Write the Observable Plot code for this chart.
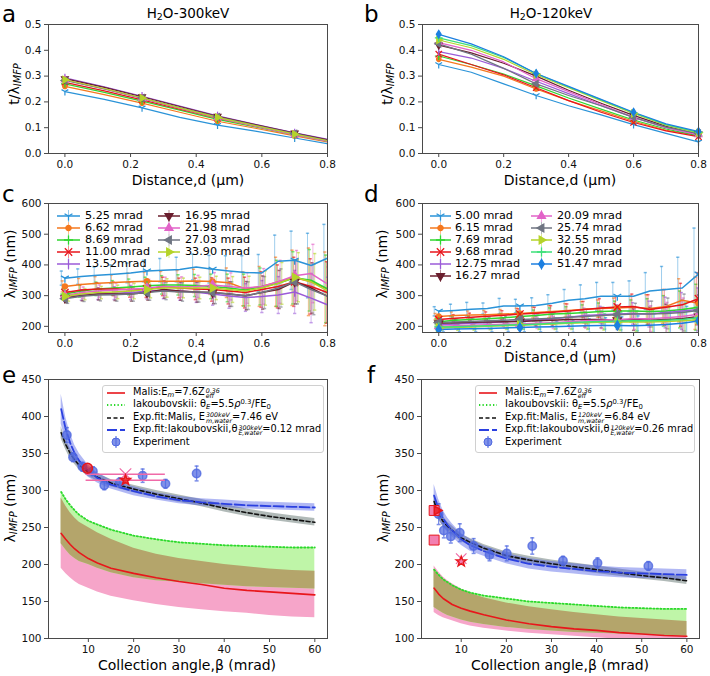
<!DOCTYPE html>
<html><head><meta charset="utf-8">
<script src="https://cdn.jsdelivr.net/npm/d3@7"></script>
<script src="https://cdn.jsdelivr.net/npm/@observablehq/plot@0.6"></script>
<style>
body{margin:0;background:#fff;font-family:"DejaVu Sans",sans-serif;}
#root{position:relative;width:710px;height:676px;overflow:hidden;background:#fff}
#root svg.layer{position:absolute;left:0;top:0}
.lbl{position:absolute;white-space:nowrap;color:#000;line-height:1;font-family:"DejaVu Sans",sans-serif}
.lbl sub{font-size:0.7em;vertical-align:-0.25em}
.lbl sup{font-size:0.7em;vertical-align:0.45em}
.ss{display:inline-flex;flex-direction:column;vertical-align:0.36em;font-size:0.64em;line-height:0.88;margin-left:1px;font-style:italic}
.ss span{display:block}
.legbox{position:absolute;background:rgba(255,255,255,0.85);border:1px solid #d0d0d0;border-radius:3px}
</style></head><body><div id="root"></div><script>
// ---------------- DATA ----------------
const series300 = ["5.25 mrad","6.62 mrad","8.69 mrad","11.00 mrad","13.52mrad","16.95 mrad","21.98 mrad","27.03 mrad","33.90 mrad"];
const series120 = ["5.00 mrad","6.15 mrad","7.69 mrad","9.68 mrad","12.75 mrad","16.27 mrad","20.09 mrad","25.74 mrad","32.55 mrad","40.20 mrad","51.47 mrad"];
const colors300 = ["#2a93d8","#f5781e","#2fd62f","#e8141b","#9b5bd8","#6b1f2e","#e263c8","#6f7582","#b5d32a"];
const colors120 = ["#2a93d8","#f5781e","#2fd62f","#e8141b","#9b5bd8","#6b1f2e","#e263c8","#6f7582","#b5d32a","#3de07a","#1c7fe0"];
const markers300 = ["tri","point","plus","x","vline","tdown","tup","tleft","tright"];
const markers120 = ["tri","point","plus","x","vline","tdown","tup","tleft","tright","plus","diamond"];

// panel a: t/lambda vs distance (300 keV)
const distA = [0, 0.12, 0.235, 0.35, 0.465, 0.58, 0.70, 0.80];
const markIdxA = [0, 2, 4, 6];
const tA = [
  [0.240,0.210,0.177,0.140,0.110,0.087,0.060,0.038],
  [0.260,0.228,0.195,0.160,0.125,0.098,0.068,0.045],
  [0.270,0.237,0.203,0.168,0.132,0.103,0.072,0.048],
  [0.276,0.243,0.208,0.172,0.137,0.106,0.075,0.050],
  [0.293,0.258,0.222,0.184,0.146,0.113,0.080,0.055],
  [0.290,0.256,0.220,0.182,0.144,0.112,0.079,0.053],
  [0.285,0.250,0.213,0.175,0.138,0.105,0.072,0.048],
  [0.283,0.250,0.215,0.178,0.142,0.109,0.077,0.051],
  [0.286,0.252,0.215,0.177,0.140,0.108,0.075,0.050]
];
// panel b: t/lambda vs distance (120 keV)
const distB = [0,0.1,0.2,0.3,0.4,0.5,0.6,0.7,0.8];
const markIdxB = [0, 3, 6, 8];
const tB = [
  [0.345,0.315,0.270,0.225,0.185,0.150,0.112,0.078,0.045],
  [0.365,0.335,0.300,0.250,0.205,0.165,0.125,0.090,0.070],
  [0.378,0.345,0.308,0.262,0.215,0.172,0.130,0.095,0.068],
  [0.385,0.345,0.305,0.255,0.205,0.160,0.120,0.088,0.065],
  [0.395,0.370,0.330,0.280,0.232,0.185,0.140,0.100,0.072],
  [0.420,0.390,0.350,0.300,0.245,0.195,0.148,0.105,0.075],
  [0.430,0.400,0.355,0.290,0.240,0.190,0.140,0.100,0.073],
  [0.425,0.385,0.330,0.270,0.225,0.185,0.140,0.102,0.078],
  [0.440,0.410,0.365,0.305,0.255,0.205,0.155,0.110,0.080],
  [0.448,0.418,0.372,0.310,0.258,0.208,0.158,0.112,0.082],
  [0.462,0.425,0.375,0.310,0.260,0.210,0.160,0.115,0.085]
];
// panels c,d: lambda vs distance
const distCD = [0,0.05,0.1,0.15,0.2,0.25,0.3,0.35,0.4,0.45,0.5,0.55,0.6,0.65,0.7,0.75,0.8];
const markIdxC = [0, 5, 9, 14];
const markIdxD = [0, 5, 11, 16];
const lam300 = [
  [357,362,366,370,374,380,383,385,393,386,380,375,374,412,415,398,422],
  [330,336,340,343,345,347,347,347,348,346,342,322,330,345,358,345,322],
  [305,315,322,325,328,332,335,335,333,330,325,318,330,340,358,350,322],
  [310,318,322,322,320,322,330,325,322,320,315,310,320,330,345,330,310],
  [298,302,306,308,310,314,318,315,311,305,299,294,297,302,312,292,270],
  [292,300,305,305,305,310,320,315,312,310,305,300,310,320,345,325,298],
  [300,310,315,318,320,325,330,328,330,335,330,325,330,345,365,372,338],
  [290,298,302,303,305,310,315,312,312,310,305,300,310,325,345,320,298],
  [298,305,310,312,315,320,325,325,325,325,320,315,325,340,360,345,315]
];
const err300 = [
  [23,25,27,30,32,35,38,40,42,45,50,55,60,85,95,105,110],
  [18,20,22,25,28,30,32,35,38,42,48,55,65,80,90,110,120],
  [18,20,22,24,26,28,30,33,36,40,45,52,60,75,85,100,110],
  [15,18,20,22,25,28,30,32,35,38,42,50,58,70,80,90,100],
  [15,17,19,21,23,25,28,30,33,36,40,45,52,60,70,80,90],
  [15,17,19,21,23,25,28,30,33,36,40,46,54,62,72,82,95],
  [16,18,20,23,25,28,30,33,36,40,44,50,58,70,82,95,110],
  [15,17,19,21,23,25,28,30,33,36,40,45,52,62,72,82,95],
  [16,18,20,22,25,27,30,32,35,38,42,48,56,68,80,92,105]
];
const lam120 = [
  [249,252,256,258,266,266,268,275,285,290,298,298,298,315,320,325,370],
  [232,235,237,238,240,242,245,248,252,256,258,260,262,258,265,285,275],
  [215,220,222,225,228,232,235,240,242,245,248,250,250,248,250,255,262],
  [222,226,230,233,236,240,243,246,250,255,260,263,265,255,262,270,290],
  [205,208,210,212,215,218,220,225,230,235,238,240,242,240,245,250,255],
  [210,212,213,214,215,216,218,220,222,222,222,220,222,220,222,225,232],
  [200,202,204,205,207,208,210,212,215,218,220,222,225,225,228,232,240],
  [212,214,216,218,220,222,224,226,230,232,235,238,240,240,242,245,252],
  [195,196,198,200,202,204,206,208,210,212,213,214,215,214,216,218,222],
  [198,199,200,202,204,205,207,210,212,214,216,217,218,218,220,222,228],
  [190,191,192,193,195,196,198,199,200,202,203,203,202,204,206,210,218]
];
const err120 = [
  [15,20,22,18,25,22,25,28,35,45,45,45,50,60,75,100,150],
  [10,12,13,14,15,17,18,20,22,25,28,32,38,45,55,70,85],
  [10,11,12,13,14,16,18,20,22,25,28,32,36,42,50,60,75],
  [10,12,13,14,15,17,19,21,23,26,30,34,40,48,58,70,85],
  [9,10,11,12,13,15,17,19,21,24,27,30,35,42,50,60,70],
  [9,10,11,12,13,15,17,19,21,24,27,30,35,42,50,60,70],
  [9,10,11,12,13,15,17,19,21,24,27,30,35,42,50,60,72],
  [9,10,11,12,13,15,17,19,21,24,27,30,35,42,50,60,70],
  [8,9,10,11,12,14,16,18,20,22,25,28,32,38,45,55,65],
  [8,9,10,11,12,14,16,18,20,22,25,28,32,38,45,55,65],
  [8,9,10,11,12,14,16,18,20,22,25,28,32,38,45,55,65]
];

// panels e,f: lambda vs collection angle
const betaCurve = [4,5,6,7,8,10,12,15,20,25,30,35,40,45,50,55,60];
const malis300 = [242,234,227,221,216,208,202,195,188,182,177,173,168,165,163,161,159];
const pinkLo300 = [195,188,182,177,173,168,163,157,151,146,142,139,136,134,131,129,128];
const pinkHi300 = [290,279,270,263,257,250,243,234,222,214,208,204,200,197,194,192,191];
const greenLo300 = [228,220,213,208,204,200,195,189,182,178,176,174,172,170,169,168,167];
const iak300 = [298,288,280,273,267,259,254,247,239,234,230,228,226,225,224,223,223];
const fitMalis300 = [378,362,350,341,334,325,318,310,302,295,289,283,276,270,265,261,257];
const fitMalisErr300 = [8,7,7,6,6,6,5,5,5,5,5,5,5,5,5,5,5];
const fitIak300 = [410,383,364,350,340,326,317,308,299,292,287,284,282,280,279,278,277];
const fitIakErr300 = [20,16,13,11,10,8,7,6,6,5,5,5,5,5,5,5,5];
const expBeta300 = [5.25,6.62,8.69,11.00,13.52,16.95,21.98,27.03,33.90];
const expLam300 = [375,345,332,326,307,311,320,309,323];
const expErr300 = [10,6,6,6,6,6,9,6,10];

const malis120 = [168,160,154,150,146,141,137,132,125,120,116,113,111,108,106,104,103];
const pinkLo120 = [135,131,128,126,124,120,117,114,110,107,105,103,101,99,98,97,96];
const pinkHi120 = [198,190,183,178,174,167,161,155,148,143,139,135,132,129,127,125,123];
const greenLo120 = [142,138,134,131,129,125,122,119,115,112,110,108,107,106,105,104,103];
const iak120 = [193,186,180,176,172,166,162,158,154,150,148,146,144,142,141,140,140];
const fitMalis120 = [285,268,258,251,246,236,230,222,212,206,201,197,193,189,185,182,178];
const fitMalisErr120 = [10,8,7,6,6,5,5,5,5,5,5,5,5,5,5,5,5];
const fitIak120 = [293,275,262,253,246,234,226,218,208,201,197,194,191,189,188,187,186];
const fitIakErr120 = [15,13,11,10,9,8,8,7,7,7,7,7,7,7,7,7,7];
const expBeta120 = [5.00,6.15,7.69,9.68,12.75,16.27,20.09,25.74,32.55,40.20,51.47];
const expLam120 = [268,246,238,243,225,213,215,225,205,202,198];
const expErr120 = [14,10,9,12,10,8,10,11,6,7,6];

// reference values (literature) in e and f
const refCircle300 = {beta:[9.8], lam:[330]};
const refLines300 = {lam:[322,314], from:[9.5,9.5], to:[27,27], markBeta:[18.2,18.2]};
const refSquares120 = {beta:[4.0,4.0], lam:[233,273]};
const refTri120 = {beta:[4.6], lam:[273]};
const refCross120 = {beta:[10.0,10.0], lam:[208,204]};

// ---------------- SYMBOLS ----------------
const R = s => Math.sqrt(s/Math.PI);
const SYM = {
  tri:{draw(c,s){const r=R(s)*1.3;c.moveTo(0,0);c.lineTo(0,r);c.moveTo(0,0);c.lineTo(-r*.87,-r*.5);c.moveTo(0,0);c.lineTo(r*.87,-r*.5);}},
  point:{draw(c,s){const r=R(s)*0.75;c.moveTo(r,0);c.arc(0,0,r,0,2*Math.PI);}},
  plus:{draw(c,s){const r=R(s)*1.3;c.moveTo(-r,0);c.lineTo(r,0);c.moveTo(0,-r);c.lineTo(0,r);}},
  x:{draw(c,s){const r=R(s)*1.05;c.moveTo(-r,-r);c.lineTo(r,r);c.moveTo(-r,r);c.lineTo(r,-r);}},
  vline:{draw(c,s){const r=R(s)*1.4;c.moveTo(0,-r);c.lineTo(0,r);}},
  tdown:{draw(c,s){const r=R(s)*1.3;c.moveTo(0,r);c.lineTo(-r*.87,-r*.5);c.lineTo(r*.87,-r*.5);c.closePath();}},
  tup:{draw(c,s){const r=R(s)*1.3;c.moveTo(0,-r);c.lineTo(-r*.87,r*.5);c.lineTo(r*.87,r*.5);c.closePath();}},
  tleft:{draw(c,s){const r=R(s)*1.3;c.moveTo(-r,0);c.lineTo(r*.5,-r*.87);c.lineTo(r*.5,r*.87);c.closePath();}},
  tright:{draw(c,s){const r=R(s)*1.3;c.moveTo(r,0);c.lineTo(-r*.5,-r*.87);c.lineTo(-r*.5,r*.87);c.closePath();}},
  diamond:{draw(c,s){const r=R(s)*1.3;c.moveTo(0,-r);c.lineTo(r*.62,0);c.lineTo(0,r);c.lineTo(-r*.62,0);c.closePath();}},
  square:{draw(c,s){const r=R(s)*0.9;c.rect(-r,-r,2*r,2*r);}},
  circle:{draw(c,s){const r=R(s);c.moveTo(r,0);c.arc(0,0,r,0,2*Math.PI);}},
  cap:{draw(c,s){const r=R(s);c.moveTo(-r,0);c.lineTo(r,0);}},
  star:{draw(c,s){const r=R(s)*1.3, ri=r*0.42;for(let i=0;i<10;i++){const a=-Math.PI/2+i*Math.PI/5, rr=i%2?ri:r; if(i===0)c.moveTo(rr*Math.cos(a),rr*Math.sin(a)); else c.lineTo(rr*Math.cos(a),rr*Math.sin(a));}c.closePath();}}
};
const FILLED = new Set(["point","tdown","tup","tleft","tright","diamond","square","circle","star"]);

// ---------------- LAYOUT ----------------
const W = 710, H = 676;
const root = document.getElementById("root");
const FA={l:48,r:327,t:24,b:153}, FB={l:422,r:698,t:24,b:153};
const FC={l:48,r:327,t:203,b:332}, FD={l:422,r:698,t:203,b:332};
const FE={l:48,r:327,t:379,b:638}, FF={l:421,r:699,t:379,b:638};
const FRAME = "#4a4a4a";

function addPlot(f, opts){
  const svg = Plot.plot({width:W,height:H,marginLeft:f.l,marginRight:W-f.r,marginTop:f.t,marginBottom:H-f.b,
    style:{background:"none",fontFamily:"DejaVu Sans, sans-serif",fontSize:"10.5px",color:"#111",overflow:"visible",maxWidth:"none"},
    ...opts});
  svg.classList.add("layer");
  root.appendChild(svg);
}
function axes(xt, yt, xf, yf){
  return [
    Plot.axisX({ticks:xt,tickFormat:xf,tickSize:4,tickPadding:3,label:null,fontSize:10.5,stroke:FRAME}),
    Plot.axisY({ticks:yt,tickFormat:yf,tickSize:4,tickPadding:3,label:null,fontSize:10.5,stroke:FRAME}),
    Plot.frame({stroke:FRAME,strokeWidth:1})
  ];
}
const f1 = d3.format(".1f");

// ---------- panels a, b ----------
function tPanel(frame, dist, vals, names, cols, marks, markIdx){
  const m = [];
  vals.forEach((row,i)=>{
    const rows = row.map((v,j)=>({d:dist[j], v}));
    m.push(Plot.line(rows,{x:"d",y:"v",stroke:cols[i],strokeWidth:1.2,clip:true}));
  });
  vals.forEach((row,i)=>{
    const rows = markIdx.map(j=>({d:dist[j], v:row[j]}));
    const fl = FILLED.has(marks[i]);
    m.push(Plot.dot(rows,{x:"d",y:"v",symbol:SYM[marks[i]],r:3,fill:fl?cols[i]:"none",stroke:cols[i],strokeWidth:1.2}));
  });
  addPlot(frame,{x:{domain:[-0.05,0.8]},y:{domain:[0,0.5]},
    marks:[...m, ...axes([0,0.2,0.4,0.6,0.8],[0,0.1,0.2,0.3,0.4,0.5],f1,f1)]});
}
tPanel(FA, distA, tA, series300, colors300, markers300, markIdxA);
tPanel(FB, distB, tB, series120, colors120, markers120, markIdxB);

// ---------- panels c, d ----------
function lamPanel(frame, vals, errs, cols, marks, markIdx){
  const m = [];
  const n = vals.length;
  vals.forEach((row,i)=>{
    const rows = row.map((v,j)=>({d:distCD[j], v, e:errs[i][j]}));
    const dx = (i-(n-1)/2)*0.9;
    m.push(Plot.ruleX(rows,{x:"d",y1:r=>r.v-r.e,y2:r=>r.v+r.e,stroke:cols[i],strokeOpacity:0.45,strokeWidth:1,dx,clip:true}));
    m.push(Plot.dot(rows,{x:"d",y:r=>r.v+r.e,symbol:SYM.cap,r:1.6,stroke:cols[i],strokeOpacity:0.6,fill:"none",dx,clip:true}));
    m.push(Plot.dot(rows,{x:"d",y:r=>r.v-r.e,symbol:SYM.cap,r:1.6,stroke:cols[i],strokeOpacity:0.6,fill:"none",dx,clip:true}));
  });
  vals.forEach((row,i)=>{
    const rows = row.map((v,j)=>({d:distCD[j], v}));
    m.push(Plot.line(rows,{x:"d",y:"v",stroke:cols[i],strokeWidth:1.5,clip:true}));
  });
  vals.forEach((row,i)=>{
    const rows = markIdx.map(j=>({d:distCD[j], v:row[j]}));
    const fl = FILLED.has(marks[i]);
    m.push(Plot.dot(rows,{x:"d",y:"v",symbol:SYM[marks[i]],r:3.5,fill:fl?cols[i]:"none",stroke:cols[i],strokeWidth:1.3,clip:true}));
  });
  addPlot(frame,{x:{domain:[-0.05,0.8]},y:{domain:[180,600]},
    marks:[...m, ...axes([0,0.2,0.4,0.6,0.8],[200,300,400,500,600],f1,d3.format("d"))]});
}
lamPanel(FC, lam300, err300, colors300, markers300, markIdxC);
lamPanel(FD, lam120, err120, colors120, markers120, markIdxD);

// ---------- panels e, f ----------
const PINK="#f6a5c9", GREEN="#bff5a8", OLIVE="#b4a56b", RED="#e8161b", BLUE="#2b40e0", EXPB="#4f68e0", HOT="#f06aa8";
function betaPanel(frame, c, exp, extras){
  const rows = betaCurve.map((b,i)=>({b, malis:c.malis[i], pLo:c.pLo[i], pHi:c.pHi[i], gLo:c.gLo[i], iak:c.iak[i],
    fm:c.fm[i], fmE:c.fmE[i], fi:c.fi[i], fiE:c.fiE[i]}));
  const er = exp.beta.map((b,i)=>({b, v:exp.lam[i], e:exp.err[i]}));
  const m = [
    Plot.areaY(rows,{x:"b",y1:"pLo",y2:"pHi",fill:PINK,clip:true}),
    Plot.areaY(rows,{x:"b",y1:"gLo",y2:"iak",fill:GREEN,clip:true}),
    Plot.areaY(rows,{x:"b",y1:"gLo",y2:d=>Math.min(d.pHi,d.iak),fill:OLIVE,clip:true}),
    Plot.line(rows,{x:"b",y:"malis",stroke:RED,strokeWidth:1.6,clip:true}),
    Plot.line(rows,{x:"b",y:"iak",stroke:"#2bd92b",strokeWidth:1.8,strokeDasharray:"1.3,2.2",clip:true}),
    Plot.areaY(rows,{x:"b",y1:d=>d.fm-d.fmE,y2:d=>d.fm+d.fmE,fill:"#7d8c88",fillOpacity:0.6,clip:true}),
    Plot.areaY(rows,{x:"b",y1:d=>d.fi-d.fiE,y2:d=>d.fi+d.fiE,fill:"#4656e4",fillOpacity:0.42,clip:true}),
    Plot.line(rows,{x:"b",y:"fm",stroke:"#111",strokeWidth:1.6,strokeDasharray:"4,2.5",clip:true}),
    Plot.line(rows,{x:"b",y:"fi",stroke:BLUE,strokeWidth:1.8,strokeDasharray:"10,3",clip:true}),
    Plot.ruleX(er,{x:"b",y1:d=>d.v-d.e,y2:d=>d.v+d.e,stroke:EXPB,strokeOpacity:0.75,strokeWidth:1.3}),
    Plot.dot(er,{x:"b",y:d=>d.v+d.e,symbol:SYM.cap,r:2,stroke:EXPB,strokeOpacity:0.75,fill:"none"}),
    Plot.dot(er,{x:"b",y:d=>d.v-d.e,symbol:SYM.cap,r:2,stroke:EXPB,strokeOpacity:0.75,fill:"none"}),
    Plot.dot(er,{x:"b",y:"v",symbol:SYM.circle,r:4.2,fill:EXPB,fillOpacity:0.72,stroke:EXPB,strokeOpacity:0.8})
  ];
  addPlot(frame,{x:{domain:[1.2,62.8]},y:{domain:[100,450]},
    marks:[...m, ...extras, ...axes([10,20,30,40,50,60],[100,150,200,250,300,350,400,450],d3.format("d"),d3.format("d"))]});
}
const ext300 = [
  Plot.ruleY(refLines300.lam.map((v,i)=>({v,a:refLines300.from[i],b:refLines300.to[i]})),{y:"v",x1:"a",x2:"b",stroke:HOT,strokeWidth:1.5}),
  Plot.dot([{b:refLines300.markBeta[0],v:refLines300.lam[0]}],{x:"b",y:"v",symbol:SYM.x,r:5.5,stroke:HOT,strokeWidth:1.2,fill:"none"}),
  Plot.dot([{b:refLines300.markBeta[1],v:refLines300.lam[1]}],{x:"b",y:"v",symbol:SYM.star,r:4,stroke:RED,fill:RED,fillOpacity:0.8}),
  Plot.dot(refCircle300.beta.map((b,i)=>({b,v:refCircle300.lam[i]})),{x:"b",y:"v",symbol:SYM.circle,r:5,fill:RED,fillOpacity:0.65,stroke:RED})
];
const ext120 = [
  Plot.dot(refSquares120.beta.map((b,i)=>({b,v:refSquares120.lam[i]})),{x:"b",y:"v",symbol:SYM.square,r:5.5,fill:"#f27fb0",stroke:RED,strokeWidth:1}),
  Plot.dot(refTri120.beta.map((b,i)=>({b,v:refTri120.lam[i]})),{x:"b",y:"v",symbol:SYM.tright,r:4,fill:RED,fillOpacity:0.8,stroke:RED}),
  Plot.dot([{b:refCross120.beta[0],v:refCross120.lam[0]}],{x:"b",y:"v",symbol:SYM.x,r:5,stroke:HOT,strokeWidth:1.2,fill:"none"}),
  Plot.dot([{b:refCross120.beta[1],v:refCross120.lam[1]}],{x:"b",y:"v",symbol:SYM.star,r:4,fill:"#f27fb0",stroke:RED})
];
betaPanel(FE,{malis:malis300,pLo:pinkLo300,pHi:pinkHi300,gLo:greenLo300,iak:iak300,fm:fitMalis300,fmE:fitMalisErr300,fi:fitIak300,fiE:fitIakErr300},
  {beta:expBeta300,lam:expLam300,err:expErr300}, ext300);
betaPanel(FF,{malis:malis120,pLo:pinkLo120,pHi:pinkHi120,gLo:greenLo120,iak:iak120,fm:fitMalis120,fmE:fitMalisErr120,fi:fitIak120,fiE:fitIakErr120},
  {beta:expBeta120,lam:expLam120,err:expErr120}, ext120);

// ---------------- TEXT ----------------
function txt(html, x, y, size, anchor="center", rotate=false){
  const d=document.createElement("div"); d.className="lbl"; d.innerHTML=html;
  d.style.fontSize=size+"px"; d.style.left=x+"px"; d.style.top=y+"px";
  let tf = anchor==="center"?"translate(-50%,-50%)":"translate(0,-50%)";
  if(rotate) tf += " rotate(-90deg)";
  d.style.transform=tf; root.appendChild(d); return d;
}
// panel letters
[["a",2,3],["b",364,3],["c",2,183],["d",364,183],["e",2,364],["f",367,364]].forEach(([t,x,y])=>{
  const d=document.createElement("div"); d.className="lbl"; d.textContent=t; d.style.fontSize="23px";
  d.style.left=x+"px"; d.style.top=y+"px"; root.appendChild(d);
});
txt("H<sub>2</sub>O-300keV", 188, 14, 13.5);
txt("H<sub>2</sub>O-120keV", 551, 14, 13.5);
const dl = "Distance,d (μm)", bl = "Collection angle,β (mrad)";
txt(dl,188,180,14); txt(dl,560,180,14);
txt(dl,188,357,14); txt(dl,560,357,14);
txt(bl,187,665,14); txt(bl,560,665,14);
const tl = "t/λ<sub><i>IMFP</i></sub>", ll = "λ<sub><i>IMFP</i></sub> (nm)";
txt(tl,15,84,14,"center",true); txt(tl,388,84,14,"center",true);
txt(ll,11,264,14,"center",true); txt(ll,383,264,14,"center",true);
txt(ll,11,508,14,"center",true); txt(ll,384,508,14,"center",true);

// legend helpers
function sample(x1, x2, y, draw){
  const svg = d3.create("svg").attr("width",x2-x1+16).attr("height",20)
    .style("position","absolute").style("left",(x1-8)+"px").style("top",(y-10)+"px").style("overflow","visible");
  const g = svg.append("g").attr("transform","translate(8,10)");
  draw(g, x2-x1);
  root.appendChild(svg.node());
}
function symPath(name, r){ return d3.symbol().type(SYM[name]).size(Math.PI*r*r)(); }
function lamLegend(names, cols, marks, cx, rows0, nPerCol){
  names.forEach((nm,i)=>{
    const col = i<nPerCol?0:1, row = i<nPerCol?i:i-nPerCol;
    const y = rows0 + row*11.9;
    const x1 = cx[col][0], x2 = cx[col][1];
    sample(x1,x2,y,(g,w)=>{
      g.append("line").attr("x1",0).attr("x2",w).attr("stroke",cols[i]).attr("stroke-width",1.5);
      g.append("line").attr("x1",w/2).attr("x2",w/2).attr("y1",-6).attr("y2",6).attr("stroke",cols[i]).attr("stroke-opacity",0.5);
      const fl = FILLED.has(marks[i]);
      g.append("path").attr("d",symPath(marks[i],3.5)).attr("transform",`translate(${w/2},0)`)
        .attr("fill",fl?cols[i]:"none").attr("stroke",cols[i]).attr("stroke-width",1.3);
    });
    txt(nm, cx[col][2], y, 11.2, "left");
  });
}
lamLegend(series300, colors300, markers300, [[57,80,85],[158,180,185]], 216, 5);
lamLegend(series120, colors120, markers120, [[430,451,455],[531,552,557]], 216, 6);

// e / f legends
function fitLegend(box, x1, x2, tx, keV, em, th){
  const b = document.createElement("div"); b.className="legbox";
  Object.assign(b.style,{left:box[0]+"px",top:box[1]+"px",width:box[2]+"px",height:box[3]+"px"});
  root.appendChild(b);
  const ys = [393,405,417.5,430,442];
  sample(x1,x2,ys[0],(g,w)=>g.append("line").attr("x2",w).attr("stroke",RED).attr("stroke-width",1.6));
  sample(x1,x2,ys[1],(g,w)=>g.append("line").attr("x2",w).attr("stroke","#2bd92b").attr("stroke-width",1.8).attr("stroke-dasharray","1.3,2.2"));
  sample(x1,x2,ys[2],(g,w)=>g.append("line").attr("x2",w).attr("stroke","#111").attr("stroke-width",1.6).attr("stroke-dasharray","4,2.5"));
  sample(x1,x2,ys[3],(g,w)=>g.append("line").attr("x2",w).attr("stroke",BLUE).attr("stroke-width",1.8).attr("stroke-dasharray","10,3"));
  sample(x1,x2,ys[4],(g,w)=>{
    g.append("line").attr("x1",w/2).attr("x2",w/2).attr("y1",-6).attr("y2",6).attr("stroke",EXPB).attr("stroke-opacity",0.8).attr("stroke-width",1.3);
    g.append("path").attr("d",symPath("circle",4)).attr("transform",`translate(${w/2},0)`).attr("fill",EXPB).attr("fill-opacity",0.72).attr("stroke",EXPB);
  });
  const fs = 9.8;
  txt(`Malis:E<sub><i>m</i></sub>=7.6Z<span class="ss"><span>0.36</span><span>eff</span></span>`, tx, ys[0], fs, "left");
  txt(`Iakoubovskii: θ<sub><i>E</i></sub>=5.5<i>ρ</i><sup>0.3</sup>/FE<sub>0</sub>`, tx, ys[1], fs, "left");
  txt(`Exp.fit:Malis, E<span class="ss"><span>${keV}</span><span>m,water</span></span>=${em} eV`, tx, ys[2], fs, "left");
  txt(`Exp.fit:Iakoubovskii,θ<span class="ss"><span>${keV}</span><span>E,water</span></span>=${th} mrad`, tx, ys[3], fs, "left");
  txt(`Experiment`, tx, ys[4], fs, "left");
}
fitLegend([102,385,220,66], 107, 125, 133, "300keV", "7.46", "0.12");
fitLegend([475,385,218,66], 479, 497, 505, "120keV", "6.84", "0.26");
</script></body></html>
